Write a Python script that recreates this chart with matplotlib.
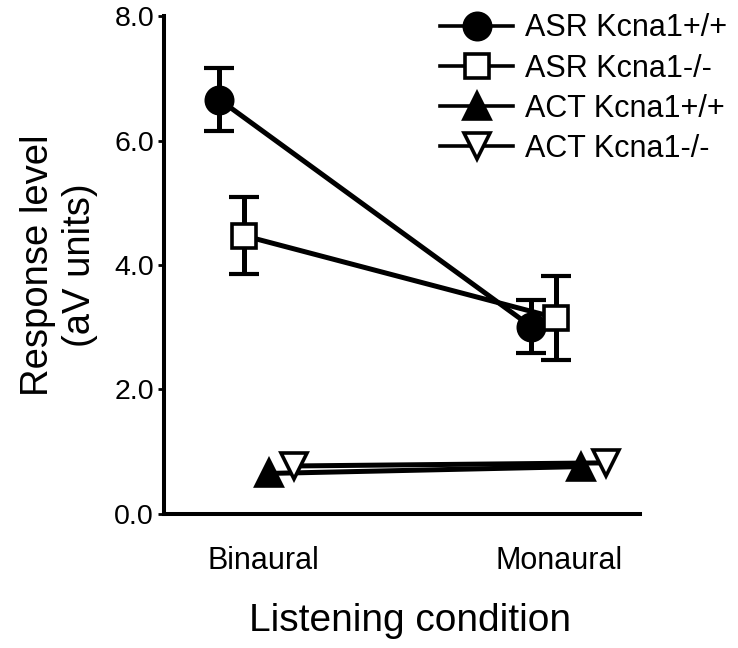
import numpy as np
import matplotlib
matplotlib.use('Agg')
import matplotlib.pyplot as plt

plt.rcParams['font.family'] = ['Liberation Sans', 'DejaVu Sans']

# listening conditions on the x axis
conditions = ['Binaural', 'Monaural']
# series names for the legend
labels = ['ASR Kcna1+/+', 'ASR Kcna1-/-', 'ACT Kcna1+/+', 'ACT Kcna1-/-']
# response level (aV units), one pair per series
asr_wt = [6.66, 3.01]
asr_wt_err = [0.50, 0.43]
asr_ko = [4.47, 3.15]
asr_ko_err = [0.62, 0.68]
act_wt = [0.65, 0.76]
act_ko = [0.77, 0.82]

values = [asr_wt, asr_ko, act_wt, act_ko]
errors = [asr_wt_err, asr_ko_err, None, None]
# marker style for each series
markers = ['o', 's', '^', 'v']
faces = ['black', 'white', 'black', 'white']
msizes = [19, 17, 19, 19]
offsets = [-0.12, -0.04, 0.04, 0.12]

x = np.arange(len(conditions))

fig = plt.figure(figsize=(7.38, 6.48), dpi=100)
ax = fig.add_axes([0.222, 0.207, 0.645, 0.768])

handles = []
for k in range(4):
    xs = x + offsets[k]
    if errors[k] is not None:
        ax.errorbar(xs, values[k], yerr=errors[k], fmt='none', ecolor='black',
                    elinewidth=3.6, capsize=10.5, capthick=3.0, zorder=2)
    line, = ax.plot(xs, values[k], color='black', lw=3.6, marker=markers[k],
                    ms=msizes[k], mfc=faces[k], mec='black', mew=2.6, zorder=3,
                    label=labels[k])
    handles.append(line)

ax.set_xlim(-0.298, 1.228)
ax.set_ylim(0, 8)
ax.set_yticks([0, 2, 4, 6, 8])
ax.set_yticklabels(['0.0', '2.0', '4.0', '6.0', '8.0'])
ax.set_xticks(x + np.array([0.02, -0.03]))
ax.set_xticklabels(conditions)

for s in ['top', 'right']:
    ax.spines[s].set_visible(False)
for s in ['left', 'bottom']:
    ax.spines[s].set_linewidth(2.9)
ax.tick_params(axis='y', labelsize=20.5, length=4, width=2, pad=3)
ax.tick_params(axis='x', labelsize=22, length=0, pad=23)

ax.set_ylabel('Response level\n(aV units)', fontsize=27.5, linespacing=1.2, labelpad=12)
ax.set_xlabel('Listening condition', fontsize=28)
ax.xaxis.set_label_coords(0.517, -0.18)

leg = ax.legend(handles=handles, loc='upper right', bbox_to_anchor=(1.21, 1.03),
                frameon=False, fontsize=22, handlelength=2.4, handletextpad=0.4,
                labelspacing=0.33, borderaxespad=0)
for h in leg.get_lines():
    h.set_linewidth(2.6)

fig.savefig('out.png', dpi=100)
